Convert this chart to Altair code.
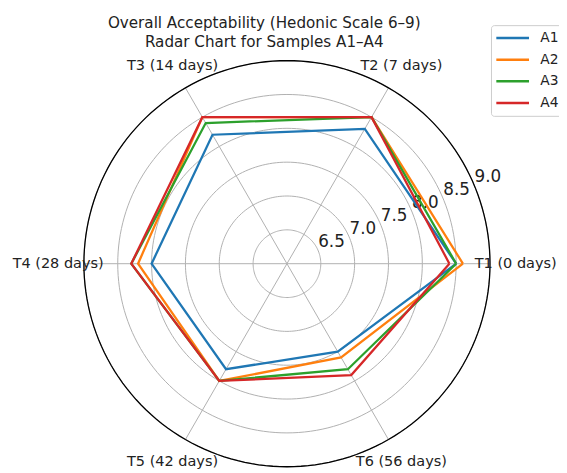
import altair as alt
import pandas as pd

categories = ["T1 (0 days)", "T2 (7 days)", "T3 (14 days)", "T4 (28 days)", "T5 (42 days)", "T6 (56 days)"]
samples = ["A1", "A2", "A3", "A4"]
a1 = [8.5, 8.3, 8.2, 8.0, 7.8, 7.5]
a2 = [8.6, 8.5, 8.5, 8.2, 8.0, 7.6]
a3 = [8.5, 8.5, 8.4, 8.3, 8.0, 7.8]
a4 = [8.4, 8.5, 8.5, 8.3, 8.0, 7.9]
r_ticks = [6.5, 7.0, 7.5, 8.0, 8.5, 9.0]
r_tick_labels = ["6.5", "7.0", "7.5", "8.0", "8.5", "9.0"]
colors = ["#1f77b4", "#ff7f0e", "#2ca02c", "#d62728"]

R_MIN = 6.0
R_MAX = 9.0
SPAN = R_MAX - R_MIN
FONT = "DejaVu Sans"

series = [a1, a2, a3, a4]
n = len(categories)

rows = []
for s, vals in zip(samples, series):
    for i in range(n + 1):
        k = i % n
        rows.append({"sample": s, "category": categories[k], "value": vals[k],
                     "angle": 360.0 * k / n, "ord": i})
lines_df = pd.DataFrame(rows)

cat_df = pd.DataFrame({"category": categories,
                       "angle": [360.0 * k / n for k in range(n)]})
grid_df = pd.DataFrame({"r": r_ticks, "label": r_tick_labels})

xs = alt.Scale(domain=[-SPAN, SPAN], nice=False, zero=False)
ys = alt.Scale(domain=[-SPAN, SPAN], nice=False, zero=False)

def X(f):
    return alt.X(f, type="quantitative", scale=xs, axis=None)

def Y(f):
    return alt.Y(f, type="quantitative", scale=ys, axis=None)

# grid circles
circles = alt.Chart(grid_df).transform_calculate(
    ang="sequence(0, 362, 2)"
).transform_flatten(["ang"]).transform_calculate(
    x=f"(datum.r - {R_MIN}) * cos(datum.ang * PI / 180)",
    y=f"(datum.r - {R_MIN}) * sin(datum.ang * PI / 180)",
).mark_line(color="#b0b0b0", strokeWidth=1).encode(
    x=X("x"), y=Y("y"), detail="r:N", order="ang:Q"
)

outer = alt.Chart(grid_df).transform_filter(
    f"datum.r == {R_MAX}"
).transform_calculate(
    ang="sequence(0, 362, 2)"
).transform_flatten(["ang"]).transform_calculate(
    x=f"(datum.r - {R_MIN}) * cos(datum.ang * PI / 180)",
    y=f"(datum.r - {R_MIN}) * sin(datum.ang * PI / 180)",
).mark_line(color="#000000", strokeWidth=1.3).encode(
    x=X("x"), y=Y("y"), order="ang:Q"
)

spokes = alt.Chart(cat_df).transform_calculate(
    x0="0", y0="0",
    x1=f"{SPAN} * cos(datum.angle * PI / 180)",
    y1=f"{SPAN} * sin(datum.angle * PI / 180)",
).mark_rule(color="#b0b0b0", strokeWidth=1).encode(
    x=X("x0"), y=Y("y0"), x2="x1:Q", y2="y1:Q"
)

rlabels = alt.Chart(grid_df).transform_calculate(
    x=f"(datum.r - {R_MIN}) * cos(22.5 * PI / 180)",
    y=f"(datum.r - {R_MIN}) * sin(22.5 * PI / 180)",
).mark_text(align="left", baseline="bottom", fontSize=17, font=FONT, color="#222222",
            dx=0, dy=0).encode(
    x=X("x"), y=Y("y"), text="label:N"
)

LABEL_R = 3.38
clabels = alt.Chart(cat_df).transform_calculate(
    x=f"{LABEL_R} * cos(datum.angle * PI / 180)",
    y=f"{LABEL_R} * sin(datum.angle * PI / 180)",
).mark_text(align="center", baseline="middle", fontSize=14.7, font=FONT, color="#222222").encode(
    x=X("x"), y=Y("y"), text="category:N"
)

data_lines = alt.Chart(lines_df).transform_calculate(
    x=f"(datum.value - {R_MIN}) * cos(datum.angle * PI / 180)",
    y=f"(datum.value - {R_MIN}) * sin(datum.angle * PI / 180)",
).mark_line(strokeWidth=2.3, strokeJoin="miter").encode(
    x=X("x"), y=Y("y"),
    color=alt.Color("sample:N", scale=alt.Scale(domain=samples, range=colors),
                    legend=alt.Legend(
                        title=None, orient="none", legendX=413, legendY=-36,
                        symbolType="stroke", symbolSize=1100, symbolStrokeWidth=2.5,
                        labelFontSize=14, labelFont=FONT, labelColor="#222222",
                        labelOffset=10, rowPadding=4, padding=4, clipHeight=18,
                        strokeColor="#cccccc", fillColor="white", cornerRadius=3,
                    )),
    order="ord:Q",
)

chart = alt.layer(circles, spokes, outer, rlabels, clabels, data_lines).properties(
    width=412, height=412,
    title=alt.Title(
        ["Overall Acceptability (Hedonic Scale 6–9)", "Radar Chart for Samples A1–A4"],
        fontSize=15.4, font=FONT, fontWeight="normal", color="#222222",
        anchor="middle", dx=-23, dy=30, lineHeight=19.5, offset=4,
    ),
    autosize=alt.AutoSizeParams(type="none"),
    padding={"left": 77, "top": 50, "right": 70, "bottom": 7},
).configure_view(stroke=None)

chart.save("out.html", embed_options={"renderer": "svg", "actions": False})
